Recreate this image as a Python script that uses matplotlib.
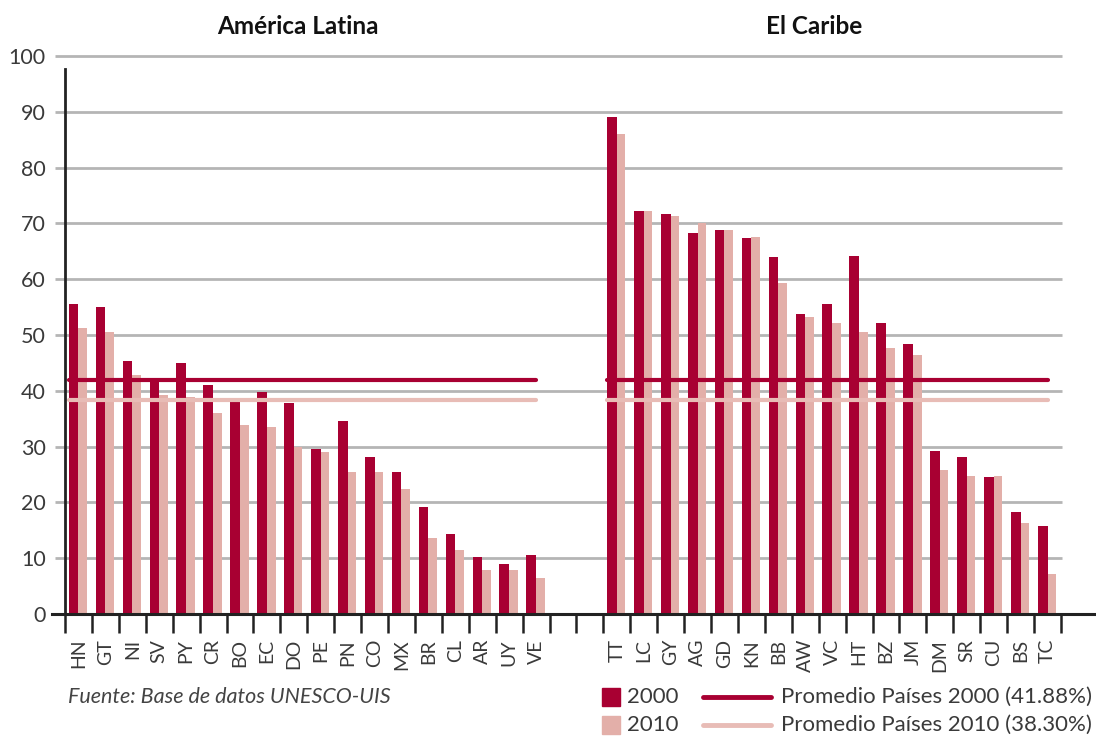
import numpy as np
import matplotlib.pyplot as plt
from matplotlib.lines import Line2D
from matplotlib.patches import Rectangle

plt.rcParams['font.family'] = ['Lato', 'DejaVu Sans']

# Datos
latam = ["HN", "GT", "NI", "SV", "PY", "CR", "BO", "EC", "DO",
         "PE", "PN", "CO", "MX", "BR", "CL", "AR", "UY", "VE"]
latam_2000 = [55.6, 55.1, 45.3, 41.6, 44.9, 41.0, 38.2, 39.7, 37.9,
              29.6, 34.5, 28.1, 25.4, 19.1, 14.3, 10.2, 8.9, 10.6]
latam_2010 = [51.3, 50.6, 42.8, 39.2, 38.8, 36.1, 33.8, 33.5, 29.9,
              29.0, 25.4, 25.4, 22.4, 13.6, 11.4, 7.9, 7.9, 6.4]

caribe = ["TT", "LC", "GY", "AG", "GD", "KN", "BB", "AW", "VC",
          "HT", "BZ", "JM", "DM", "SR", "CU", "BS", "TC"]
caribe_2000 = [89.1, 72.3, 71.7, 68.2, 68.9, 67.4, 63.9, 53.7, 55.6,
               64.2, 52.1, 48.3, 29.2, 28.1, 24.5, 18.2, 15.7]
caribe_2010 = [86.0, 72.3, 71.4, 70.1, 68.9, 67.6, 59.4, 53.3, 52.2,
               50.6, 47.6, 46.5, 25.8, 24.7, 24.7, 16.3, 7.2]

prom_2000 = 41.88
prom_2010 = 38.30

DARK = "#a80032"
LIGHT = "#e3afa9"
LIGHT_LINE = "#e8bcb6"
TXT = "#3a3a3a"

gap = 2
x_la = np.arange(len(latam))
x_ca = np.arange(len(caribe)) + len(latam) + gap
n_slots = len(latam) + gap + len(caribe)

W, H = 1096, 737
fig = plt.figure(figsize=(W / 100, H / 100), dpi=100)
ax = fig.add_axes([65 / W, 1 - 614 / H, (W - 65) / W, (614 - 56) / H])

xmax = n_slots - 0.5 + 35 / 26.9
ax.set_xlim(-0.5, xmax)
ax.set_ylim(0, 100)

# rejilla
ax.hlines(np.arange(10, 101, 10), -0.87, n_slots - 0.45, color="#b5b5b5",
          lw=2, zorder=0, clip_on=False)

wd, wl = 0.36, 0.32
for xs, v0, v1 in [(x_la, latam_2000, latam_2010), (x_ca, caribe_2000, caribe_2010)]:
    ax.bar(xs - wd, v0, width=wd, align="edge", color=DARK, zorder=2)
    ax.bar(xs, v1, width=wl, align="edge", color=LIGHT, zorder=2)
    ax.plot([xs[0] - wd, xs[-1]], [prom_2010] * 2, color=LIGHT_LINE, lw=3,
            solid_capstyle="round", zorder=3)
    ax.plot([xs[0] - wd, xs[-1]], [prom_2000] * 2, color=DARK, lw=3,
            solid_capstyle="round", zorder=3)

# ejes
for s in ["top", "right", "bottom"]:
    ax.spines[s].set_visible(False)
ax.spines["left"].set_bounds(0, 97.6)
ax.spines["left"].set_linewidth(2)
ax.spines["left"].set_color("#222222")
ax.plot([-0.98, xmax], [0, 0], color="#222222", lw=2.2, clip_on=False, zorder=4)

ax.set_yticks(np.arange(0, 101, 10))
ax.tick_params(axis="y", length=0, pad=14, labelsize=15.5, labelcolor=TXT)

ax.set_xticks(list(x_la) + list(x_ca))
ax.set_xticklabels(latam + caribe, rotation=90)
ax.tick_params(axis="x", which="major", length=0, pad=18, labelsize=14,
               labelcolor=TXT)
ax.set_xticks(np.arange(-0.5, n_slots, 1), minor=True)
ax.tick_params(axis="x", which="minor", length=13.5, width=1.8, color="#222222")

# titulos
fig.text(298 / W, 1 - 27 / H, "América Latina", ha="center", va="center",
         fontsize=17.5, fontweight="bold", color="#111111")
fig.text(814 / W, 1 - 27 / H, "El Caribe", ha="center", va="center",
         fontsize=17.5, fontweight="bold", color="#111111")

# fuente
fig.text(68 / W, 1 - 697 / H, "Fuente: Base de datos UNESCO-UIS", ha="left",
         va="center", fontsize=15.5, style="italic", color="#444444")

# leyenda
for row, (col, lab, lcol, ltxt) in enumerate([
        (DARK, "2000", DARK, "Promedio Países 2000 (41.88%)"),
        (LIGHT, "2010", LIGHT_LINE, "Promedio Países 2010 (38.30%)")]):
    yc = 697 + row * 28
    fig.patches.append(Rectangle((602 / W, 1 - (yc + 9) / H), 18 / W, 18 / H,
                                 transform=fig.transFigure, color=col))
    fig.text(627 / W, 1 - yc / H, lab, ha="left", va="center", fontsize=16,
             color=TXT)
    fig.lines.append(Line2D([703 / W, 771 / W], [1 - yc / H] * 2, lw=3.5,
                            color=lcol, solid_capstyle="round",
                            transform=fig.transFigure))
    fig.text(781 / W, 1 - yc / H, ltxt, ha="left", va="center", fontsize=16,
             color=TXT)

fig.savefig("out.png", dpi=100)
